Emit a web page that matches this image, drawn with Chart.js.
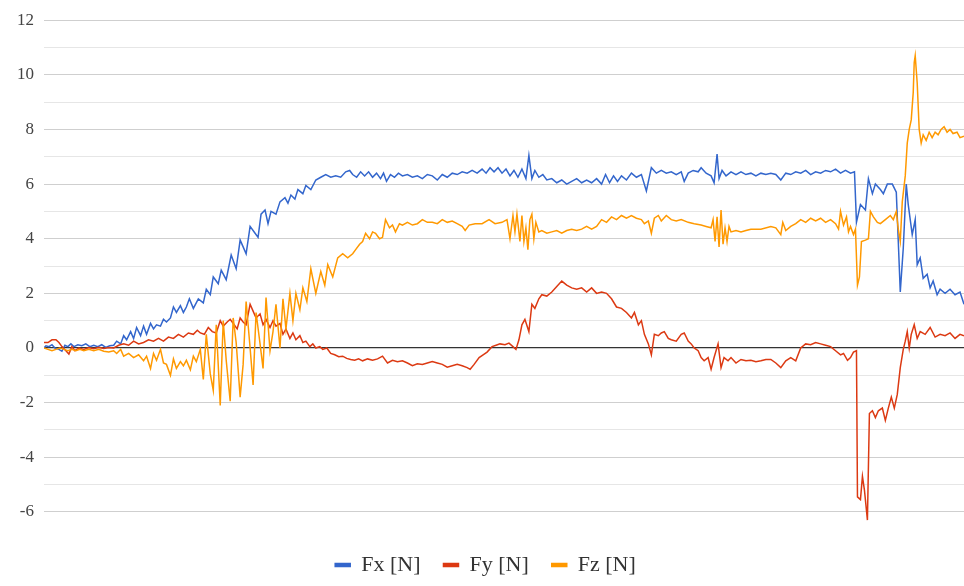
<!DOCTYPE html>
<html>
<head>
<meta charset="utf-8">
<script src="https://cdn.jsdelivr.net/npm/chart.js@4.4.1/dist/chart.umd.min.js"></script>
<style>
    body { margin: 0; background: #ffffff; }
    #wrap { width: 964px; height: 586px; }
</style>
</head>
<body>
<div id="wrap"><canvas id="forceChart" width="964" height="586"></canvas></div>
<script>
// force sensor log: [time s, force N]
const seriesNames = ['Fx [N]', 'Fy [N]', 'Fz [N]'];

const fxData = [
    [0.0,0.0],[0.2,0.08],[0.5,0.05],[0.8,0.12],[1.1,0.0],[1.5,-0.05],[1.8,-0.12],[2.1,0.1],[2.4,0.05],[2.7,0.15],
    [3.0,0.05],[3.4,0.12],[3.8,0.08],[4.2,0.15],[4.6,0.05],[5.0,0.1],[5.4,0.05],[5.8,0.12],[6.2,0.02],[6.6,0.08],
    [7.0,0.1],[7.3,0.25],[7.7,0.15],[8.0,0.45],[8.3,0.3],[8.7,0.6],[9.0,0.35],[9.3,0.75],[9.7,0.45],[10.0,0.8],
    [10.3,0.5],[10.7,0.9],[11.0,0.7],[11.3,0.85],[11.7,0.8],[12.0,1.05],[12.3,0.95],[12.7,1.1],[13.0,1.5],[13.3,1.3],
    [13.7,1.55],[14.0,1.3],[14.3,1.5],[14.6,1.8],[15.0,1.45],[15.5,1.8],[16.0,1.65],[16.3,2.15],[16.7,1.95],[17.0,2.6],
    [17.5,2.35],[17.8,2.85],[18.3,2.5],[18.8,3.4],[19.3,2.9],[19.7,3.95],[20.0,3.7],[20.3,3.45],[20.7,4.45],[21.2,4.2],
    [21.5,4.05],[21.8,4.9],[22.2,5.05],[22.5,4.55],[22.8,5.0],[23.3,4.9],[23.7,5.35],[24.2,5.5],[24.5,5.3],[24.8,5.6],
    [25.2,5.45],[25.5,5.8],[26.0,5.65],[26.3,5.95],[26.8,5.8],[27.3,6.15],[27.8,6.25],[28.3,6.35],[28.8,6.25],[29.3,6.3],
    [29.8,6.25],[30.3,6.45],[30.7,6.5],[31.0,6.35],[31.4,6.25],[31.8,6.45],[32.2,6.3],[32.6,6.45],[33.0,6.25],[33.4,6.4],
    [33.8,6.2],[34.1,6.4],[34.4,6.1],[34.8,6.35],[35.2,6.25],[35.6,6.4],[36.0,6.3],[36.5,6.35],[37.0,6.25],[37.5,6.3],
    [38.0,6.2],[38.5,6.35],[39.0,6.3],[39.5,6.15],[40.0,6.35],[40.5,6.25],[41.0,6.4],[41.5,6.35],[42.0,6.45],[42.5,6.4],
    [43.0,6.5],[43.5,6.4],[44.0,6.55],[44.4,6.4],[44.8,6.6],[45.2,6.45],[45.6,6.6],[46.0,6.4],[46.4,6.55],[46.8,6.3],
    [47.2,6.5],[47.6,6.25],[48.0,6.55],[48.4,6.2],[48.7,7.05],[49.0,6.2],[49.3,6.5],[49.7,6.25],[50.1,6.35],[50.5,6.15],
    [51.0,6.2],[51.5,6.05],[52.0,6.15],[52.5,6.0],[53.0,6.1],[53.5,6.2],[54.0,6.05],[54.5,6.15],[55.0,6.05],[55.5,6.2],
    [56.0,6.0],[56.4,6.35],[56.8,6.05],[57.2,6.3],[57.6,6.1],[58.0,6.3],[58.5,6.15],[59.0,6.4],[59.5,6.25],[60.0,6.35],
    [60.5,5.75],[61.0,6.6],[61.5,6.4],[62.0,6.5],[62.5,6.4],[63.0,6.45],[63.5,6.35],[64.0,6.45],[64.3,6.1],[64.7,6.4],
    [65.2,6.5],[65.7,6.45],[66.0,6.6],[66.5,6.4],[67.0,6.3],[67.3,6.05],[67.6,7.1],[67.8,6.2],[68.1,6.5],[68.5,6.3],
    [69.0,6.45],[69.5,6.35],[70.0,6.45],[70.5,6.35],[71.0,6.4],[71.5,6.3],[72.0,6.4],[72.5,6.35],[73.0,6.4],[73.5,6.35],
    [74.0,6.15],[74.5,6.4],[75.0,6.35],[75.5,6.45],[76.0,6.4],[76.5,6.5],[77.0,6.35],[77.5,6.45],[78.0,6.4],[78.5,6.5],
    [79.0,6.45],[79.5,6.55],[80.0,6.4],[80.5,6.5],[81.0,6.4],[81.4,6.45],[81.6,4.6],[82.0,5.25],[82.5,5.05],[82.8,6.2],
    [83.2,5.65],[83.5,6.0],[84.0,5.8],[84.3,5.65],[84.7,6.0],[85.2,6.0],[85.6,5.7],[85.8,3.9],[86.0,2.05],[86.3,3.65],
    [86.6,6.0],[86.8,5.25],[87.2,4.15],[87.5,4.7],[87.7,3.05],[88.0,3.3],[88.3,2.55],[88.7,2.7],[89.0,2.2],[89.3,2.45],
    [89.7,1.95],[90.0,2.15],[90.5,2.0],[91.0,2.15],[91.5,1.95],[92.0,2.05],[92.4,1.6]
];

const fyData = [
    [0.0,0.2],[0.4,0.2],[0.8,0.3],[1.2,0.3],[1.5,0.2],[1.8,0.05],[2.2,-0.1],[2.5,-0.22],[2.8,0.05],[3.1,-0.1],
    [3.5,0.0],[4.0,-0.05],[4.5,0.02],[5.0,-0.03],[5.5,0.03],[6.0,-0.02],[6.5,0.02],[7.0,0.0],[7.5,0.1],[8.0,0.15],
    [8.5,0.1],[9.0,0.25],[9.5,0.15],[10.0,0.2],[10.5,0.3],[11.0,0.25],[11.5,0.35],[12.0,0.25],[12.5,0.4],[13.0,0.35],
    [13.5,0.5],[14.0,0.4],[14.5,0.55],[15.0,0.5],[15.4,0.65],[15.7,0.55],[16.1,0.5],[16.5,0.75],[16.9,0.6],[17.3,0.55],
    [17.7,1.0],[18.0,0.8],[18.4,0.95],[18.7,1.05],[19.1,0.85],[19.4,0.7],[19.7,1.1],[20.0,0.95],[20.3,0.85],[20.7,1.6],
    [21.0,1.35],[21.3,1.1],[21.7,1.25],[22.0,0.85],[22.3,1.05],[22.7,0.75],[23.0,1.0],[23.3,0.8],[23.7,0.9],[24.0,0.5],
    [24.3,0.7],[24.7,0.35],[25.0,0.55],[25.3,0.3],[25.7,0.45],[26.0,0.2],[26.3,0.25],[26.7,0.05],[27.0,0.15],[27.3,0.0],
    [27.7,0.05],[28.0,-0.05],[28.4,0.0],[28.8,-0.2],[29.2,-0.25],[29.6,-0.32],[30.0,-0.3],[30.4,-0.38],[30.8,-0.42],[31.2,-0.45],
    [31.6,-0.4],[32.0,-0.47],[32.5,-0.4],[33.0,-0.45],[33.5,-0.4],[34.0,-0.3],[34.5,-0.55],[35.0,-0.45],[35.5,-0.5],[36.0,-0.47],
    [36.5,-0.55],[37.0,-0.65],[37.5,-0.58],[38.0,-0.6],[38.5,-0.55],[39.0,-0.5],[39.5,-0.55],[40.0,-0.6],[40.5,-0.7],[41.0,-0.65],
    [41.5,-0.6],[42.0,-0.65],[42.5,-0.72],[42.8,-0.78],[43.2,-0.6],[43.7,-0.35],[44.1,-0.25],[44.5,-0.15],[45.0,0.05],[45.4,0.1],
    [45.8,0.15],[46.3,0.12],[46.7,0.18],[47.1,0.05],[47.4,-0.05],[47.7,0.3],[48.0,0.85],[48.3,1.05],[48.7,0.6],[49.0,1.6],
    [49.3,1.45],[49.7,1.8],[50.0,1.95],[50.5,1.9],[51.0,2.05],[51.5,2.25],[52.0,2.45],[52.5,2.3],[53.0,2.2],[53.5,2.15],
    [54.0,2.2],[54.5,2.05],[55.0,2.2],[55.5,2.0],[56.0,2.05],[56.5,2.0],[57.0,1.8],[57.5,1.5],[58.0,1.45],[58.5,1.3],
    [59.0,1.1],[59.3,1.3],[59.7,0.85],[60.0,1.0],[60.3,0.5],[60.7,0.15],[61.0,-0.25],[61.3,0.5],[61.7,0.45],[62.0,0.55],
    [62.3,0.6],[62.7,0.35],[63.0,0.3],[63.5,0.25],[64.0,0.5],[64.3,0.55],[64.7,0.25],[65.0,0.15],[65.3,0.0],[65.7,-0.1],
    [66.0,-0.35],[66.3,-0.47],[66.7,-0.35],[67.0,-0.78],[67.3,-0.35],[67.7,0.15],[68.0,-0.72],[68.3,-0.35],[68.7,-0.47],[69.0,-0.35],
    [69.5,-0.55],[70.0,-0.42],[70.5,-0.47],[71.0,-0.45],[71.5,-0.5],[72.0,-0.47],[72.5,-0.42],[73.0,-0.42],[73.5,-0.55],[74.0,-0.72],
    [74.5,-0.47],[75.0,-0.35],[75.5,-0.47],[76.0,0.0],[76.5,0.15],[77.0,0.12],[77.5,0.2],[78.0,0.15],[78.5,0.1],[79.0,0.05],
    [79.5,-0.1],[80.0,-0.25],[80.3,-0.2],[80.7,-0.45],[81.0,-0.35],[81.3,-0.15],[81.6,-0.1],[81.7,-5.45],[82.0,-5.55],[82.2,-4.7],
    [82.4,-5.2],[82.7,-6.3],[82.9,-2.4],[83.2,-2.3],[83.5,-2.55],[83.8,-2.3],[84.2,-2.2],[84.5,-2.65],[84.8,-2.2],[85.1,-1.8],
    [85.4,-2.2],[85.7,-1.7],[86.0,-0.72],[86.3,-0.05],[86.5,0.25],[86.7,0.6],[86.9,0.0],[87.1,0.5],[87.4,0.85],[87.7,0.35],
    [88.0,0.6],[88.5,0.5],[89.0,0.75],[89.5,0.4],[90.0,0.5],[90.5,0.45],[91.0,0.55],[91.5,0.35],[92.0,0.5],[92.4,0.45]
];

const fzData = [
    [0.0,0.0],[0.4,-0.05],[0.8,-0.1],[1.2,-0.05],[1.6,0.0],[2.0,-0.05],[2.4,-0.1],[2.8,-0.05],[3.2,-0.1],[3.6,-0.05],
    [4.0,-0.1],[4.5,-0.05],[5.0,-0.1],[5.5,-0.05],[6.0,-0.12],[6.5,-0.15],[7.0,-0.1],[7.3,-0.2],[7.7,-0.05],[8.0,-0.3],
    [8.5,-0.2],[9.0,-0.35],[9.5,-0.25],[10.0,-0.47],[10.3,-0.3],[10.7,-0.75],[11.0,-0.2],[11.3,-0.45],[11.7,-0.05],[12.0,-0.55],
    [12.3,-0.6],[12.7,-1.0],[13.0,-0.4],[13.3,-0.75],[13.7,-0.5],[14.0,-0.65],[14.3,-0.45],[14.7,-0.8],[15.0,-0.3],[15.3,-0.5],
    [15.7,-0.05],[16.0,-1.15],[16.3,0.5],[16.7,-0.95],[17.0,-1.55],[17.3,0.85],[17.7,-2.1],[18.0,1.0],[18.3,-0.45],[18.7,-1.95],
    [19.0,1.1],[19.3,0.2],[19.7,-1.8],[20.0,-0.6],[20.3,1.7],[20.7,0.0],[21.0,-1.35],[21.3,1.3],[21.7,0.15],[22.0,-0.75],
    [22.3,1.85],[22.7,-0.1],[23.0,0.6],[23.3,1.6],[23.7,0.0],[24.0,1.8],[24.3,0.7],[24.7,2.0],[25.0,1.0],[25.3,2.0],
    [25.7,1.4],[26.0,2.2],[26.4,1.7],[26.8,2.9],[27.3,2.0],[27.8,2.8],[28.2,2.3],[28.5,3.05],[29.0,2.6],[29.5,3.3],
    [30.0,3.45],[30.5,3.3],[31.0,3.45],[31.3,3.6],[31.7,3.8],[32.0,3.9],[32.3,4.2],[32.7,4.0],[33.0,4.25],[33.3,4.2],
    [33.7,4.0],[34.0,4.05],[34.3,4.7],[34.7,4.4],[35.0,4.5],[35.3,4.25],[35.7,4.55],[36.0,4.5],[36.5,4.6],[37.0,4.5],
    [37.5,4.55],[38.0,4.7],[38.5,4.6],[39.0,4.6],[39.5,4.55],[40.0,4.7],[40.5,4.6],[41.0,4.65],[41.5,4.55],[42.0,4.45],
    [42.3,4.3],[42.7,4.5],[43.3,4.55],[44.0,4.55],[44.7,4.7],[45.3,4.55],[46.0,4.6],[46.5,4.7],[46.8,4.0],[47.1,4.85],
    [47.3,4.25],[47.5,4.9],[47.8,3.9],[48.0,4.85],[48.2,3.9],[48.4,4.4],[48.6,3.6],[48.8,4.7],[49.0,4.9],[49.2,4.0],
    [49.4,4.6],[49.7,4.25],[50.0,4.3],[50.5,4.2],[51.0,4.25],[51.5,4.3],[52.0,4.2],[52.5,4.3],[53.0,4.35],[53.5,4.3],
    [54.0,4.35],[54.5,4.45],[55.0,4.35],[55.5,4.45],[56.0,4.7],[56.5,4.6],[57.0,4.8],[57.5,4.7],[58.0,4.85],[58.5,4.75],
    [59.0,4.85],[59.5,4.75],[60.0,4.7],[60.3,4.55],[60.7,4.65],[61.0,4.2],[61.3,4.75],[61.7,4.85],[62.0,4.65],[62.5,4.85],
    [63.0,4.7],[63.5,4.65],[64.0,4.7],[64.7,4.6],[65.3,4.55],[66.0,4.5],[66.5,4.45],[67.0,4.4],[67.2,4.7],[67.4,3.9],
    [67.6,4.8],[67.8,3.7],[68.0,5.05],[68.2,3.8],[68.4,4.4],[68.6,3.9],[68.8,4.45],[69.0,4.25],[69.5,4.3],[70.0,4.25],
    [70.5,4.3],[71.0,4.35],[72.0,4.35],[73.0,4.45],[73.5,4.4],[74.0,4.15],[74.2,4.6],[74.5,4.3],[75.0,4.45],[75.5,4.55],
    [76.0,4.7],[76.5,4.6],[77.0,4.75],[77.5,4.65],[78.0,4.75],[78.5,4.6],[79.0,4.7],[79.5,4.55],[79.8,4.35],[80.0,5.0],
    [80.3,4.5],[80.6,4.8],[80.8,4.25],[81.0,4.45],[81.3,4.15],[81.5,4.35],[81.7,2.3],[81.9,2.6],[82.1,3.9],[82.5,3.95],
    [82.8,4.0],[83.0,5.0],[83.3,4.8],[83.7,4.6],[84.0,4.55],[84.5,4.7],[85.0,4.85],[85.3,4.7],[85.6,5.0],[85.8,4.35],
    [86.0,3.9],[86.2,5.35],[86.5,6.3],[86.7,7.5],[86.9,8.0],[87.1,8.35],[87.3,9.35],[87.4,10.45],[87.5,10.7],[87.7,9.7],
    [87.9,8.0],[88.1,7.5],[88.3,7.8],[88.6,7.6],[88.9,7.9],[89.2,7.7],[89.5,7.9],[89.8,7.8],[90.1,8.0],[90.4,8.1],
    [90.7,7.9],[91.0,8.0],[91.3,7.85],[91.7,7.9],[92.0,7.7],[92.4,7.75]
];

const yTicks = [-6, -4, -2, 0, 2, 4, 6, 8, 10, 12];

//chart line dataset
function line_dataset(label, data, color, order){
    return {
        label: label,
        data: data.map(function(p){ return {x: p[0], y: p[1]}; }),
        borderColor: color,
        backgroundColor: color,
        borderWidth: 1.5,
        pointRadius: 0,
        tension: 0,
        order: order,
    };
}

function chart_force_line(id){
    return new Chart(id, {
        type: 'line',
        data: {
            datasets: [
                line_dataset(seriesNames[0], fxData, '#3366cc', 2),
                line_dataset(seriesNames[1], fyData, '#dc3912', 1),
                line_dataset(seriesNames[2], fzData, '#ff9900', 0),
            ],
        },
        options: {
            responsive: false,
            animation: false,
            layout: {
                padding: {top: 3, left: 7, right: 0, bottom: 0},
            },
            scales: {
                x: {
                    type: 'linear',
                    min: 0,
                    max: 92.4,
                    display: false,
                },
                y: {
                    min: -6.7,
                    max: 12,
                    border: {display: false},
                    grid: {
                        drawTicks: false,
                        color: function(ctx){
                            if (ctx.tick.value === 0) return '#333333';
                            return yTicks.includes(ctx.tick.value) ? '#cfcfcf' : '#e6e6e6';
                        },
                        lineWidth: function(ctx){
                            return ctx.tick.value === 0 ? 1.2 : 1;
                        },
                    },
                    ticks: {
                        stepSize: 1,
                        includeBounds: false,
                        padding: 10,
                        color: '#444444',
                        font: {family: "'Liberation Serif', serif", size: 17},
                        callback: function(value){
                            return yTicks.includes(value) ? value : '';
                        },
                    },
                },
            },
            plugins: {
                legend: {
                    display: true,
                    position: 'bottom',
                    labels: {
                        boxWidth: 15,
                        boxHeight: 3,
                        padding: 23,
                        color: '#333333',
                        font: {family: "'Liberation Serif', serif", size: 22},
                        sort: function(a, b){ return a.datasetIndex - b.datasetIndex; },
                    },
                },
                tooltip: {enabled: false},
            },
        },
    });
}

chart_force_line(document.getElementById('forceChart'));
</script>
</body>
</html>
